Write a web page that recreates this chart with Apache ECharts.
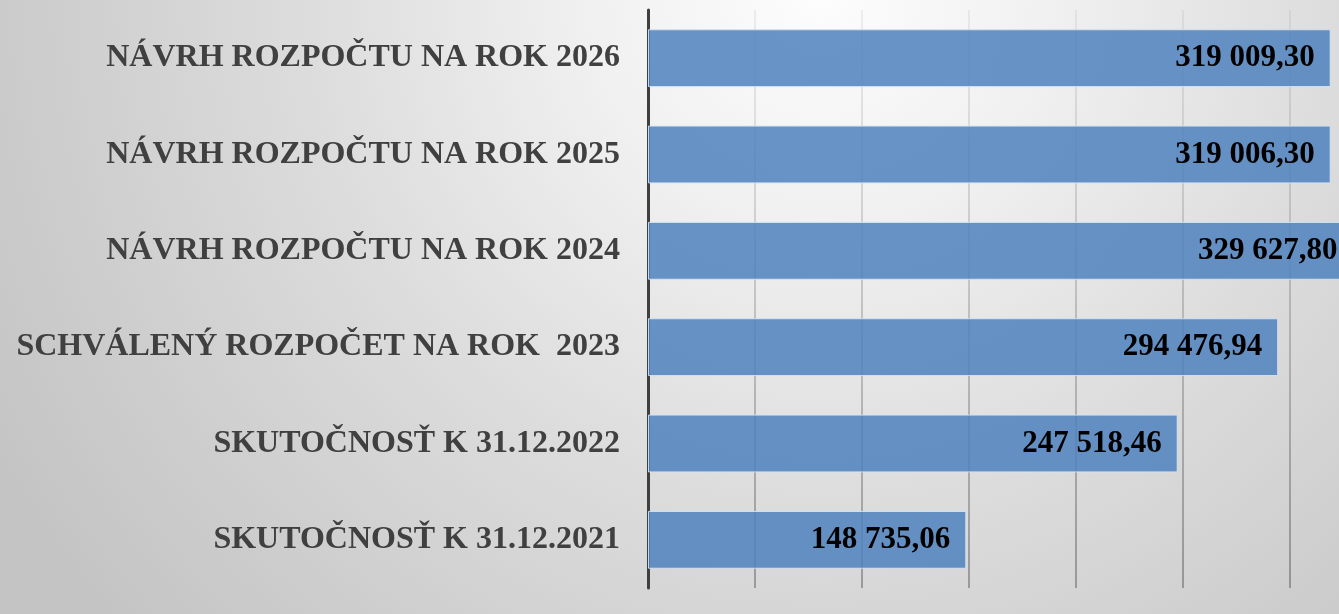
<!DOCTYPE html>
<html>
<head>
<meta charset="utf-8">
<script src="https://cdn.jsdelivr.net/npm/echarts@6/dist/echarts.min.js"></script>
<style>
  html, body { margin: 0; padding: 0; }
  #chart { width: 1339px; height: 614px; }
</style>
</head>
<body>
<div id="chart"></div>
<script>
// categories from bottom to top
const categories = [
  'SKUTOČNOSŤ K 31.12.2021',
  'SKUTOČNOSŤ K 31.12.2022',
  'SCHVÁLENÝ ROZPOČET NA ROK  2023',
  'NÁVRH ROZPOČTU NA ROK 2024',
  'NÁVRH ROZPOČTU NA ROK 2025',
  'NÁVRH ROZPOČTU NA ROK 2026'
];
const amounts = [148735.06, 247518.46, 294476.94, 329627.80, 319006.30, 319009.30];

function skNumber(v) {
  let parts = v.toFixed(2).split('.');
  let whole = parts[0].replace(/\B(?=(\d{3})+(?!\d))/g, ' ');
  return whole + ',' + parts[1];
}

const chart = echarts.init(document.getElementById('chart'));

const options = {
  graphic: [{
    type: 'rect',
    z: -100,
    silent: true,
    shape: { x: 0, y: 0, width: 1339, height: 614 },
    style: {
      fill: new echarts.graphic.RadialGradient(820, -10, 950, [
        { offset: 0, color: '#fdfdfd' },
        { offset: 0.25, color: '#f0f0f0' },
        { offset: 0.55, color: '#dcdcdc' },
        { offset: 0.82, color: '#cdcdcd' },
        { offset: 1, color: '#c4c4c4' }
      ], true)
    }
  }],
  grid: {
    left: 648,
    top: 10,
    right: -58,
    bottom: 26,
    outerBoundsMode: 'none'
  },
  xAxis: {
    type: 'value',
    min: 0,
    max: 350000,
    interval: 50000,
    axisLabel: { show: false },
    axisLine: { show: false },
    axisTick: { show: false },
    splitLine: {
      show: true,
      lineStyle: {
        width: 1.5,
        color: new echarts.graphic.LinearGradient(0, 10, 0, 588, [
          { offset: 0, color: 'rgba(0,0,0,0.07)' },
          { offset: 1, color: 'rgba(0,0,0,0.38)' }
        ], true)
      }
    }
  },
  yAxis: {
    type: 'category',
    data: categories,
    axisLine: { show: true, lineStyle: { color: '#3f3f3f', width: 3 } },
    axisTick: { show: false },
    axisLabel: {
      margin: 28,
      color: '#404040',
      fontFamily: '"Liberation Serif", "DejaVu Serif", serif',
      fontWeight: 'bold',
      fontSize: 32
    }
  },
  series: [{
    type: 'bar',
    data: amounts,
    barCategoryGap: '40%',
    itemStyle: {
      color: 'rgba(79,129,189,0.85)',
      borderColor: 'rgba(215,228,245,0.9)',
      borderWidth: 1
    },
    label: {
      show: true,
      position: 'insideRight',
      distance: 16,
      color: '#000',
      fontFamily: '"Liberation Serif", "DejaVu Serif", serif',
      fontWeight: 'bold',
      fontSize: 31,
      formatter: p => skNumber(p.value)
    }
  }]
};

chart.setOption(options);
</script>
</body>
</html>
